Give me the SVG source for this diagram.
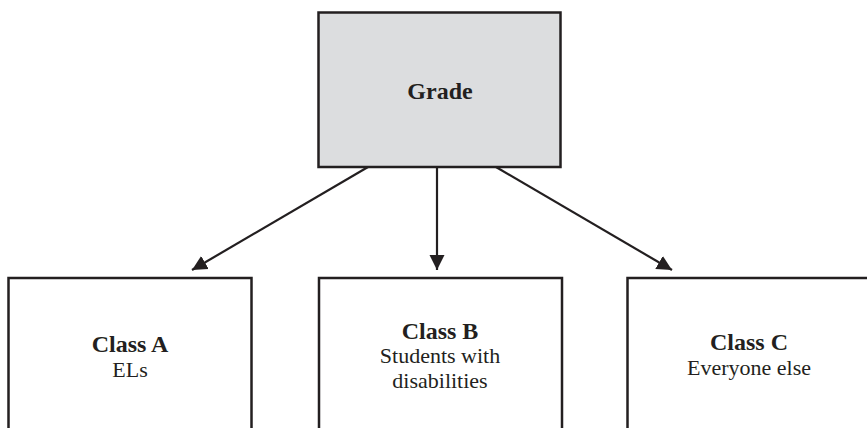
<svg xmlns="http://www.w3.org/2000/svg" width="867" height="428" viewBox="0 0 867 428">
<style>
.box{fill:#ffffff;stroke:#231f20;stroke-width:2.5}
.grey{fill:#dcdddf}
text{fill:#231f20;text-anchor:middle}
.b{font-weight:bold;font-size:24px}
.r{font-size:22px}
.conn{stroke:#231f20;stroke-width:2.2;fill:none;marker-end:url(#ah)}
</style>
<defs>
<marker id="ah" markerUnits="userSpaceOnUse" markerWidth="16" markerHeight="16" viewBox="0 0 16 15" refX="15" refY="7.5" orient="auto">
<polygon points="0,0 15,7.5 0,15" fill="#231f20"/>
</marker>
</defs>
<rect width="867" height="428" fill="#ffffff"/>
<g id="connectors">
<line class="conn" x1="368" y1="167" x2="192" y2="270"/>
<line class="conn" x1="437" y1="167" x2="437" y2="270"/>
<line class="conn" x1="496" y1="167" x2="672" y2="270"/>
</g>
<g id="grade" font-family="Liberation Serif, Times New Roman, serif">
<rect class="box grey" x="318.5" y="12.5" width="242" height="154.5"/>
<text class="b" x="440" y="99">Grade</text>
</g>
<g id="classA" font-family="Liberation Serif, Times New Roman, serif">
<rect class="box" x="8.5" y="278" width="243" height="170"/>
<text class="b" x="130" y="352">Class A</text>
<text class="r" x="130" y="377">ELs</text>
</g>
<g id="classB" font-family="Liberation Serif, Times New Roman, serif">
<rect class="box" x="319" y="278" width="243" height="170"/>
<text class="b" x="440" y="339">Class B</text>
<text class="r" x="440" y="363">Students with</text>
<text class="r" x="440" y="388">disabilities</text>
</g>
<g id="classC" font-family="Liberation Serif, Times New Roman, serif">
<rect class="box" x="627.5" y="278" width="243" height="170"/>
<text class="b" x="749" y="350">Class C</text>
<text class="r" x="749" y="375">Everyone else</text>
</g>
</svg>
